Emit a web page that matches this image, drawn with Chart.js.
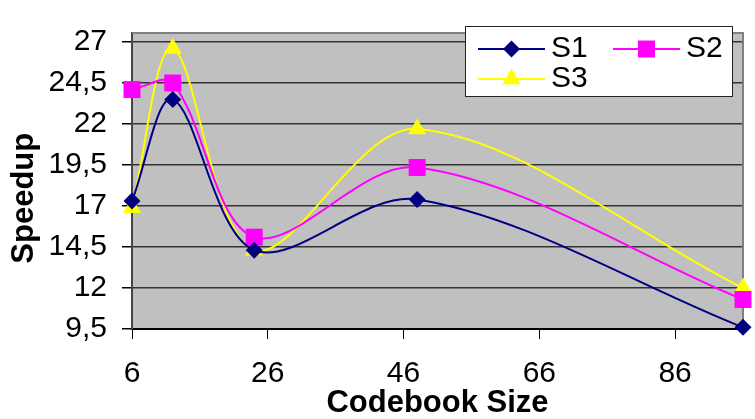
<!DOCTYPE html>
<html>
<head>
<meta charset="utf-8">
<script src="https://cdn.jsdelivr.net/npm/chart.js@4"></script>
<style>
html, body { margin: 0; padding: 0; background: #fff; }
#wrap { width: 755px; height: 419px; position: relative; }
</style>
</head>
<body>
<div id="wrap"><canvas id="speedChart"></canvas></div>
<script>
// data
const codebookSizes = [6, 12, 24, 48, 96];
const seriesNames = ['S1', 'S2', 'S3'];
const s1Values = [17.3, 23.5, 14.3, 17.4, 9.6];
const s2Values = [24.1, 24.5, 15.1, 19.35, 11.3];
const s3Values = [16.9, 26.6, 14.3, 21.7, 12.0];
const xTicks = [6, 26, 46, 66, 86];
const yTicks = [9.5, 12, 14.5, 17, 19.5, 22, 24.5, 27];

Chart.defaults.font.family = '"Liberation Sans", Arial, sans-serif';
Chart.defaults.color = '#000';

function toPoints(values) {
    return values.map((v, i) => ({ x: codebookSizes[i], y: v }));
}

// grey plot area like Excel
const plotBackground = {
    id: 'plotBackground',
    beforeDraw(chart) {
        const { ctx, chartArea: a } = chart;
        ctx.save();
        ctx.fillStyle = '#c0c0c0';
        ctx.fillRect(a.left, a.top, a.right - a.left, a.bottom - a.top);
        ctx.restore();
    },
    beforeDatasetsDraw(chart) {
        const { ctx, chartArea: a } = chart;
        ctx.save();
        ctx.strokeStyle = '#808080';
        ctx.lineWidth = 2;
        ctx.beginPath();
        ctx.moveTo(a.left, a.top);
        ctx.lineTo(a.right, a.top);
        ctx.lineTo(a.right, a.bottom);
        ctx.stroke();
        ctx.restore();
    }
};

// legend box inside the plot, top right
const boxLegend = {
    id: 'boxLegend',
    afterDraw(chart) {
        const ctx = chart.ctx;
        const slots = [{ x: 478, y: 49 }, { x: 613, y: 49 }, { x: 478, y: 79 }];
        ctx.save();
        ctx.fillStyle = '#fff';
        ctx.fillRect(465, 26, 267, 70);
        ctx.strokeStyle = '#222';
        ctx.lineWidth = 1;
        ctx.strokeRect(465.5, 26.5, 267, 70);
        chart.data.datasets.forEach((ds, i) => {
            const s = slots[i];
            ctx.strokeStyle = ds.borderColor;
            ctx.lineWidth = 2;
            ctx.beginPath();
            ctx.moveTo(s.x, s.y);
            ctx.lineTo(s.x + 67, s.y);
            ctx.stroke();
            ctx.fillStyle = ds.backgroundColor;
            Chart.helpers.drawPoint(ctx, { pointStyle: ds.pointStyle, radius: ds.pointRadius, rotation: 0, borderWidth: 0 }, s.x + 33.5, s.y);
            ctx.fillStyle = '#000';
            ctx.font = '30px "Liberation Sans", Arial, sans-serif';
            ctx.textBaseline = 'alphabetic';
            ctx.textAlign = 'left';
            ctx.fillText(ds.label, s.x + 73, s.y + 8);
        });
        ctx.restore();
    }
};

const ctx = document.getElementById('speedChart').getContext('2d');
new Chart(ctx, {
    type: 'line',
    data: {
        datasets: [{
            label: seriesNames[0],
            data: toPoints(s1Values),
            borderColor: '#000080',
            backgroundColor: '#000080',
            pointStyle: 'rectRot',
            pointRadius: 8.5
        }, {
            label: seriesNames[1],
            data: toPoints(s2Values),
            borderColor: '#ff00ff',
            backgroundColor: '#ff00ff',
            pointStyle: 'rect',
            pointRadius: 12
        }, {
            label: seriesNames[2],
            data: toPoints(s3Values),
            borderColor: '#ffff00',
            backgroundColor: '#ffff00',
            pointStyle: 'triangle',
            pointRadius: 10.5
        }]
    },
    options: {
        responsive: true, maintainAspectRatio: false,
        animation: false,
        devicePixelRatio: 1,
        layout: { padding: { top: 11, right: 5, left: 0, bottom: 0 } },
        elements: {
            line: { borderWidth: 2, tension: 0.33 },
            point: { borderWidth: 0, hoverRadius: 8 }
        },
        datasets: { line: { clip: false } },
        plugins: {
            legend: { display: false },
            tooltip: { enabled: false }
        },
        scales: {
            x: {
                type: 'linear',
                min: 6, max: 96,
                afterBuildTicks: s => { s.ticks = xTicks.map(v => ({ value: v })); },
                afterFit: s => { s.height = 90; },
                grid: { drawOnChartArea: false, drawTicks: true, tickLength: 10, tickColor: '#000' },
                border: { color: '#000', width: 2 },
                ticks: { font: { size: 30 }, padding: 17, maxRotation: 0 },
                title: {
                    display: true, text: 'Codebook Size',
                    font: { size: 31, weight: 'bold' },
                    padding: { top: 0, bottom: -3 }
                }
            },
            y: {
                min: 9.5, max: 27.55,
                afterBuildTicks: s => { s.ticks = yTicks.map(v => ({ value: v })); },
                afterFit: s => { s.width = 132; },
                grid: { color: '#333', lineWidth: 1.5, tickLength: 10, tickColor: '#000' },
                border: { color: '#444', width: 2 },
                ticks: {
                    font: { size: 30 }, padding: 15,
                    callback: v => String(v).replace('.', ',')
                },
                title: {
                    display: true, text: 'Speedup    ',
                    font: { size: 31, weight: 'bold' },
                    padding: { top: 6, bottom: 0 }
                }
            }
        }
    },
    plugins: [plotBackground, boxLegend]
});
</script>
</body>
</html>
